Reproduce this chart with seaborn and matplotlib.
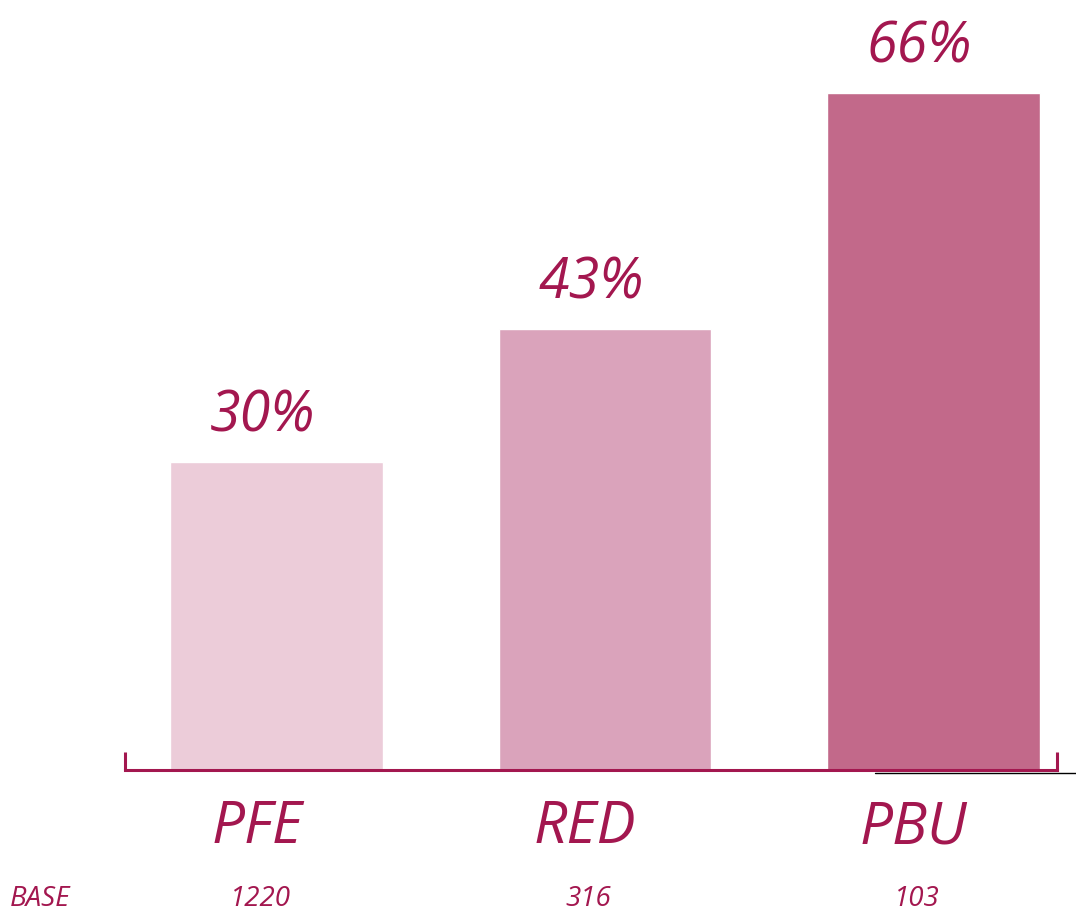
import matplotlib
matplotlib.use("Agg")
import matplotlib.pyplot as plt
import matplotlib.transforms as mtransforms
from matplotlib.lines import Line2D
import seaborn as sns
import pandas as pd

# --- Datos ---
categorias = ["PFE", "RED", "PBU"]
porcentajes = [30, 43, 66]
bases = ["1220", "316", "103"]
colores = ["#ECCCD9", "#DAA3BB", "#C2698A"]

texto = "#A3174F"

sns.set_style("white")
plt.rcParams["font.family"] = ["Open Sans", "DejaVu Sans"]

df = pd.DataFrame({"cat": categorias, "pct": porcentajes})

W, H = 1076, 917
fig = plt.figure(figsize=(W / 100, H / 100), dpi=100)
ax = fig.add_axes([125 / W, (H - 770) / H, (1057 - 125) / W, 717.5 / H])

sns.barplot(data=df, x="cat", y="pct", hue="cat", palette=colores,
            width=0.648, legend=False, ax=ax, saturation=1)

ax.set_xlim(-0.461, 2.376)
ax.set_ylim(0, 70)

# etiquetas de porcentaje
for i, v in enumerate(porcentajes):
    ax.annotate(f"{v}%", (i, v), xytext=(-10, 22), textcoords="offset points",
                ha="center", va="baseline", fontsize=40, style="italic",
                color=texto)

# ejes
for s in ["top", "right", "left"]:
    ax.spines[s].set_visible(False)
ax.spines["bottom"].set_color(texto)
ax.spines["bottom"].set_linewidth(2.2)
ax.set_yticks([])
ax.set_ylabel("")
ax.set_xlabel("")
ax.tick_params(axis="x", length=0)
ax.set_xticks(range(len(categorias)))
ax.set_xticklabels([])

# corchetes en los extremos
for xe in [0, 1]:
    ax.plot([xe, xe], [0, 18 / 717.5], transform=ax.transAxes, color=texto,
            lw=2.2, clip_on=False, solid_capstyle="butt")

# línea fina negra abajo a la derecha
fig.add_artist(Line2D([875 / W, 1.0], [(H - 773) / H] * 2, color="black", lw=1))

# categorías y bases
trans = mtransforms.blended_transform_factory(ax.transData, fig.transFigure)
for i, (c, b) in enumerate(zip(categorias, bases)):
    ax.text(i - 0.06, (H - 828) / H, c, transform=trans, ha="center", va="center",
            fontsize=42, style="italic", color=texto)
    ax.text(i - 0.05, (H - 899) / H, b, transform=trans, ha="center", va="center",
            fontsize=20, style="italic", color=texto)
fig.text(10 / W, (H - 899) / H, "BASE", ha="left", va="center", fontsize=20,
         style="italic", color=texto)

plt.savefig("out.png", dpi=100)
